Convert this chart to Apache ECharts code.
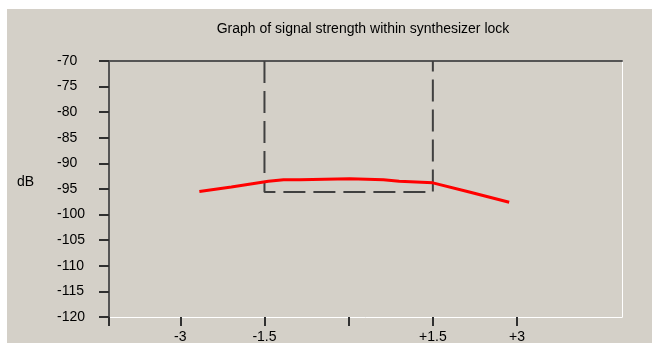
<!DOCTYPE html>
<html>
<head>
<meta charset="utf-8">
<script src="https://cdn.jsdelivr.net/npm/echarts@6/dist/echarts.min.js"></script>
<style>
  html, body { margin: 0; padding: 0; background: #ffffff; }
  #chart { position: absolute; left: 7px; top: 9px; width: 645px; height: 334px; background: #d4d0c8; }
</style>
</head>
<body>
<div id="chart"></div>
<script>
// offset from lock centre (x) and signal strength in dB (y)
const offsetValues = [-2.66, -2.09, -1.43, -1.16, -0.87, 0.02, 0.62, 0.90, 1.50, 2.15, 2.86]
const signalDb = [-95.5, -94.6, -93.5, -93.2, -93.2, -93.0, -93.2, -93.5, -93.8, -95.6, -97.6]

// synthesizer lock window
const lockLow = -1.5
const lockHigh = 1.5
const lockFloor = -95.6
const lockCeil = -70

// axes
const xMin = -4.27
const xMax = 4.87
const xTickMarks = [xMin, -3, -1.5, 0, 1.5, 3]
const xTickLabels = [-3, -1.5, 1.5, 3]
const yMin = -120
const yMax = -70
const yStep = 5

const font = 'Liberation Sans, Arial, sans-serif'
const chart = echarts.init(document.getElementById('chart'))

chart.setOption({
  animation: false,
  title: {
    text: 'Graph of signal strength within synthesizer lock',
    left: 351,
    top: 8,
    textAlign: 'center',
    textStyle: { fontSize: 14, fontWeight: 'normal', color: '#000', fontFamily: font }
  },
  graphic: [{
    type: 'text',
    left: 10,
    top: 166,
    style: { text: 'dB', fontSize: 14, fill: '#000', fontFamily: font }
  }],
  grid: { left: 102, right: 30, top: 52, bottom: 26, containLabel: false, outerBoundsMode: 'none' },
  xAxis: [
    {
      type: 'value',
      min: xMin,
      max: xMax,
      position: 'bottom',
      axisLine: { onZero: false, lineStyle: { color: '#ffffff', width: 1 } },
      axisTick: { show: true, customValues: xTickMarks, length: 9, lineStyle: { color: '#303030', width: 2 } },
      axisLabel: {
        customValues: xTickLabels,
        margin: 13,
        fontSize: 14,
        color: '#000',
        fontFamily: font,
        formatter: v => (v > 0 ? '+' + v : String(v))
      },
      splitLine: { show: false }
    },
    {
      type: 'value',
      min: xMin,
      max: xMax,
      position: 'top',
      axisLine: { onZero: false, lineStyle: { color: '#555555', width: 2 } },
      axisTick: { show: false },
      axisLabel: { show: false },
      splitLine: { show: false }
    }
  ],
  yAxis: [
    {
      type: 'value',
      min: yMin,
      max: yMax,
      interval: yStep,
      position: 'left',
      axisLine: { show: true, onZero: false, lineStyle: { color: '#555555', width: 2 } },
      axisTick: { show: true, length: 10, lineStyle: { color: '#303030', width: 2 } },
      axisLabel: { align: 'left', margin: 52, fontSize: 14, color: '#000', fontFamily: font },
      splitLine: { show: false }
    },
    {
      type: 'value',
      min: yMin,
      max: yMax,
      position: 'right',
      axisLine: { show: true, onZero: false, lineStyle: { color: '#ffffff', width: 1 } },
      axisTick: { show: false },
      axisLabel: { show: false },
      splitLine: { show: false }
    }
  ],
  series: [
    {
      name: 'lock window',
      type: 'line',
      symbol: 'none',
      silent: true,
      lineStyle: { color: '#404040', width: 2, type: [22, 8] },
      data: [[lockLow, lockCeil], [lockLow, lockFloor], [lockHigh, lockFloor], [lockHigh, lockCeil]]
    },
    {
      name: 'signal',
      type: 'line',
      symbol: 'none',
      lineStyle: { color: '#ff0000', width: 3 },
      data: offsetValues.map((x, i) => [x, signalDb[i]])
    }
  ]
})
</script>
</body>
</html>
